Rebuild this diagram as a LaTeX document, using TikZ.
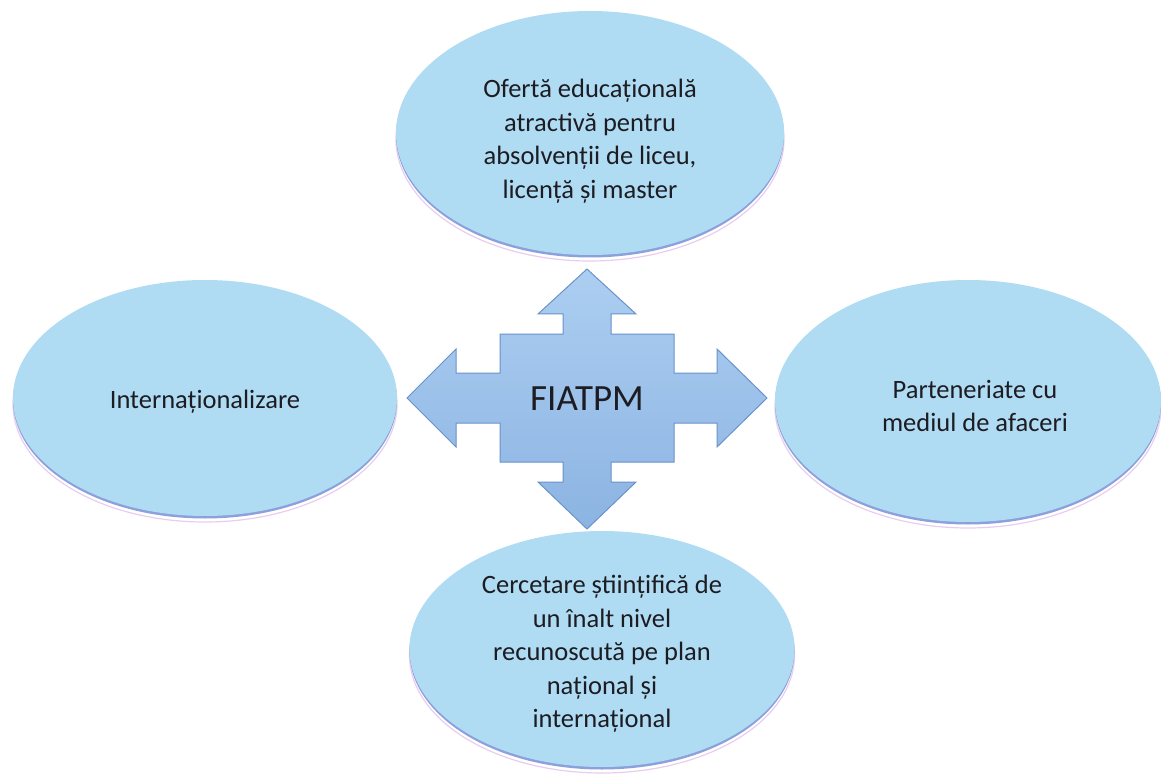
\documentclass[tikz,border=0pt]{standalone}
\usepackage{fontspec}
\setmainfont{Carlito}
\usetikzlibrary{shapes.geometric}
\definecolor{ellfill}{RGB}{176,220,243}
\definecolor{ellrim}{RGB}{140,160,220}
\definecolor{ellshadow}{RGB}{232,205,238}
\definecolor{arrtop}{RGB}{172,206,241}
\definecolor{arrbot}{RGB}{140,180,226}
\definecolor{arrdark}{RGB}{106,146,202}
\definecolor{txt}{RGB}{28,28,34}
\tikzset{
  goal/.style={ellipse, inner sep=0pt, fill=ellfill,
    preaction={draw=ellshadow, line width=1.2pt, transform canvas={yshift=-6pt}},
    preaction={fill=ellrim, transform canvas={yshift=-2.5pt}}},
  goaltext/.style={align=center, text=txt, inner sep=0pt, font=\fontsize{26.5}{33.5}\selectfont},
  hubarrow/.style={top color=arrtop, bottom color=arrbot, draw=arrdark, line width=1pt, line join=miter},
  hubtext/.style={text=txt, inner sep=0pt, font=\fontsize{37}{44}\selectfont}
}
\begin{document}
\begin{tikzpicture}[x=1pt,y=-1pt]
\useasboundingbox (0,0) rectangle (1161,775);
\fill[white] (0,0) rectangle (1161,775);
% ellipses
\node[goal, minimum width=388, minimum height=244] (top) at (590,133) {};
\node[goal, minimum width=384, minimum height=236] (left) at (205,398) {};
\node[goal, minimum width=386, minimum height=242] (right) at (968,401) {};
\node[goal, minimum width=385, minimum height=236] (bottom) at (602,649) {};
% texts
\node[goaltext] (toptext) at (590,141) {Ofertă educațională\\atractivă pentru\\absolvenții de liceu,\\licență și master};
\node[goaltext] (lefttext) at (205,402) {Internaționalizare};
\node[goaltext] (righttext) at (975,406) {Parteneriate cu\\mediul de afaceri};
\node[goaltext] (bottomtext) at (602,654) {Cercetare științifică de\\un înalt nivel\\recunoscută pe plan\\național și\\internațional};
% central four-way arrow
\draw[hubarrow, shift={(587,398)}]
  (0,-129) -- (49,-84) -- (24,-84) -- (24,-64) -- (87,-64) -- (87,-25) -- (130,-25) -- (130,-49)
  -- (180,0) -- (130,49) -- (130,25) -- (87,25) -- (87,64) -- (24,64) -- (24,84) -- (49,84)
  -- (0,131) -- (-49,84) -- (-24,84) -- (-24,64) -- (-87,64) -- (-87,25) -- (-131,25) -- (-131,49)
  -- (-180,0) -- (-131,-49) -- (-131,-25) -- (-87,-25) -- (-87,-64) -- (-24,-64) -- (-24,-84) -- (-49,-84) -- cycle;
\node[hubtext] (hub) at (587,399) {FIATPM};
\end{tikzpicture}
\end{document}
